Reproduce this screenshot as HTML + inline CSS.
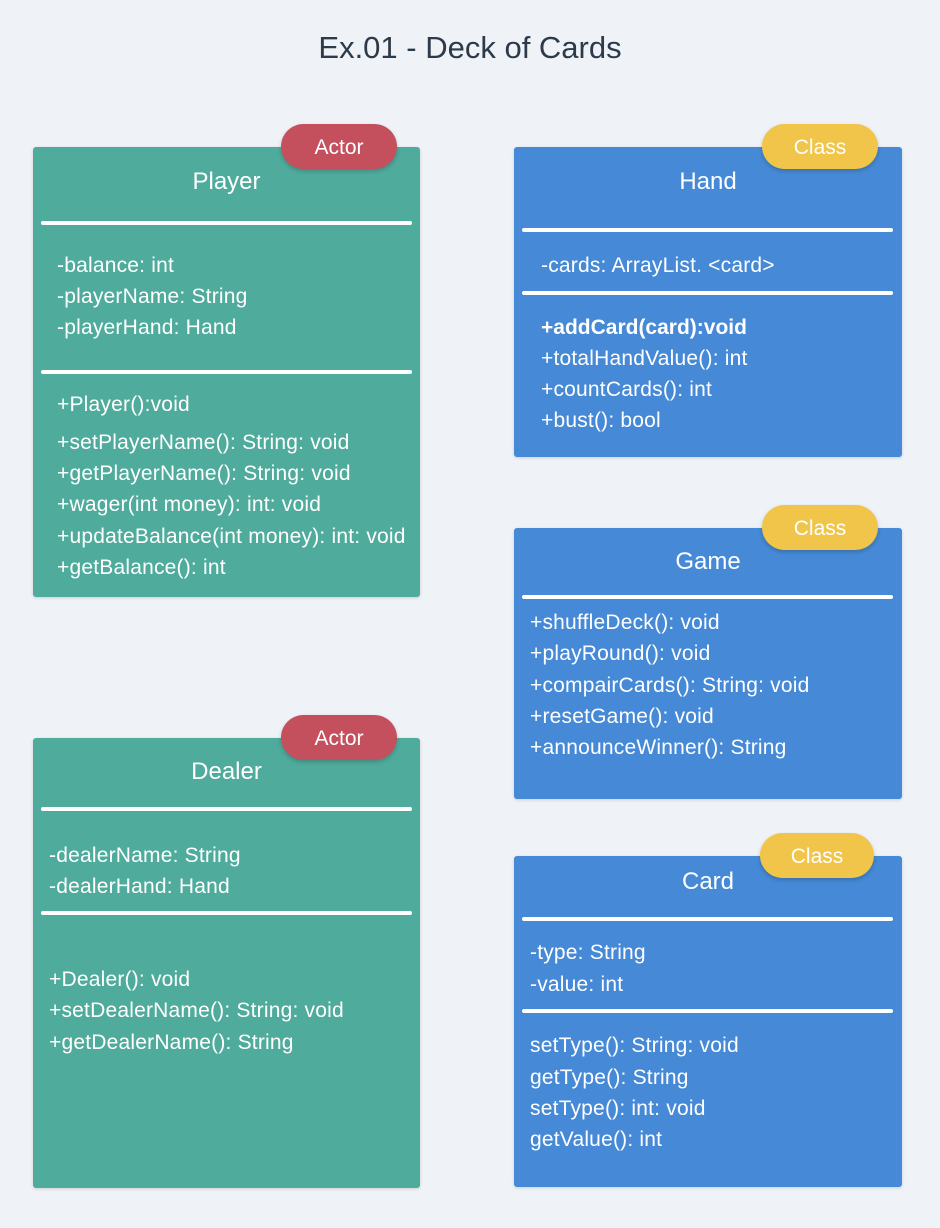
<!DOCTYPE html>
<html><head><style>
body{margin:0;width:940px;height:1228px;background:#eff3f7;position:relative;font-family:"Liberation Sans",sans-serif;overflow:hidden}
.box{position:absolute;border-radius:3px;box-shadow:0 1px 3px rgba(0,0,0,.15)}
.teal{background:#4fab9c}.blue{background:#4689d6}
.badge{position:absolute;height:45px;border-radius:23px;color:#fff;font-size:21px;line-height:47px;text-align:center;box-shadow:0 2px 4px rgba(0,0,0,.2)}
.red{background:#c4505e}.yel{background:#f0c54a}
.t{position:absolute;color:#fff;font-size:21px;letter-spacing:0.2px;line-height:24px;white-space:nowrap;margin-top:2px}
.h{position:absolute;color:#fff;font-size:24px;line-height:28px;text-align:center;margin-top:1px}
.l{position:absolute;height:4px;background:#fff;border-radius:2px}
</style></head><body>
<div style="position:absolute;left:0;width:940px;top:29px;text-align:center;font-size:31px;line-height:38px;color:#2d3a4a">Ex.01 - Deck of Cards</div>

<div class="box teal" style="left:33px;top:147px;width:387px;height:450px"></div>
<div class="badge red" style="left:281px;top:124px;width:116px">Actor</div>
<div class="h" style="left:33px;width:387px;top:167px">Player</div>
<div class="l" style="left:41px;width:371px;top:221px"></div>
<div class="t" style="left:57px;top:252px">-balance: int</div>
<div class="t" style="left:57px;top:283px">-playerName: String</div>
<div class="t" style="left:57px;top:314px">-playerHand: Hand</div>
<div class="l" style="left:41px;width:371px;top:370px"></div>
<div class="t" style="left:57px;top:391px">+Player():void</div>
<div class="t" style="left:57px;top:429px">+setPlayerName(): String: void</div>
<div class="t" style="left:57px;top:460px">+getPlayerName(): String: void</div>
<div class="t" style="left:57px;top:491px">+wager(int money): int: void</div>
<div class="t" style="left:57px;top:523px">+updateBalance(int money): int: void</div>
<div class="t" style="left:57px;top:554px">+getBalance(): int</div>

<div class="box teal" style="left:33px;top:738px;width:387px;height:450px"></div>
<div class="badge red" style="left:281px;top:715px;width:116px">Actor</div>
<div class="h" style="left:33px;width:387px;top:757px">Dealer</div>
<div class="l" style="left:41px;width:371px;top:807px"></div>
<div class="t" style="left:49px;top:842px">-dealerName: String</div>
<div class="t" style="left:49px;top:873px">-dealerHand: Hand</div>
<div class="l" style="left:41px;width:371px;top:911px"></div>
<div class="t" style="left:49px;top:966px">+Dealer(): void</div>
<div class="t" style="left:49px;top:997px">+setDealerName(): String: void</div>
<div class="t" style="left:49px;top:1029px">+getDealerName(): String</div>

<div class="box blue" style="left:514px;top:147px;width:388px;height:310px"></div>
<div class="badge yel" style="left:762px;top:124px;width:116px">Class</div>
<div class="h" style="left:514px;width:388px;top:167px">Hand</div>
<div class="l" style="left:522px;width:371px;top:228px"></div>
<div class="t" style="left:541px;top:252px">-cards: ArrayList. &lt;card&gt;</div>
<div class="l" style="left:522px;width:371px;top:291px"></div>
<div class="t" style="left:541px;top:314px;font-weight:bold;letter-spacing:0">+addCard(card):void</div>
<div class="t" style="left:541px;top:345px">+totalHandValue(): int</div>
<div class="t" style="left:541px;top:376px">+countCards(): int</div>
<div class="t" style="left:541px;top:407px">+bust(): bool</div>

<div class="box blue" style="left:514px;top:528px;width:388px;height:271px"></div>
<div class="badge yel" style="left:762px;top:505px;width:116px">Class</div>
<div class="h" style="left:514px;width:388px;top:547px">Game</div>
<div class="l" style="left:522px;width:371px;top:595px"></div>
<div class="t" style="left:530px;top:609px">+shuffleDeck(): void</div>
<div class="t" style="left:530px;top:640px">+playRound(): void</div>
<div class="t" style="left:530px;top:672px">+compairCards(): String: void</div>
<div class="t" style="left:530px;top:703px">+resetGame(): void</div>
<div class="t" style="left:530px;top:734px">+announceWinner(): String</div>

<div class="box blue" style="left:514px;top:856px;width:388px;height:331px"></div>
<div class="badge yel" style="left:760px;top:833px;width:114px">Class</div>
<div class="h" style="left:514px;width:388px;top:867px">Card</div>
<div class="l" style="left:522px;width:371px;top:917px"></div>
<div class="t" style="left:530px;top:939px">-type: String</div>
<div class="t" style="left:530px;top:971px">-value: int</div>
<div class="l" style="left:522px;width:371px;top:1009px"></div>
<div class="t" style="left:530px;top:1032px">setType(): String: void</div>
<div class="t" style="left:530px;top:1064px">getType(): String</div>
<div class="t" style="left:530px;top:1095px">setType(): int: void</div>
<div class="t" style="left:530px;top:1126px">getValue(): int</div>
</body></html>
